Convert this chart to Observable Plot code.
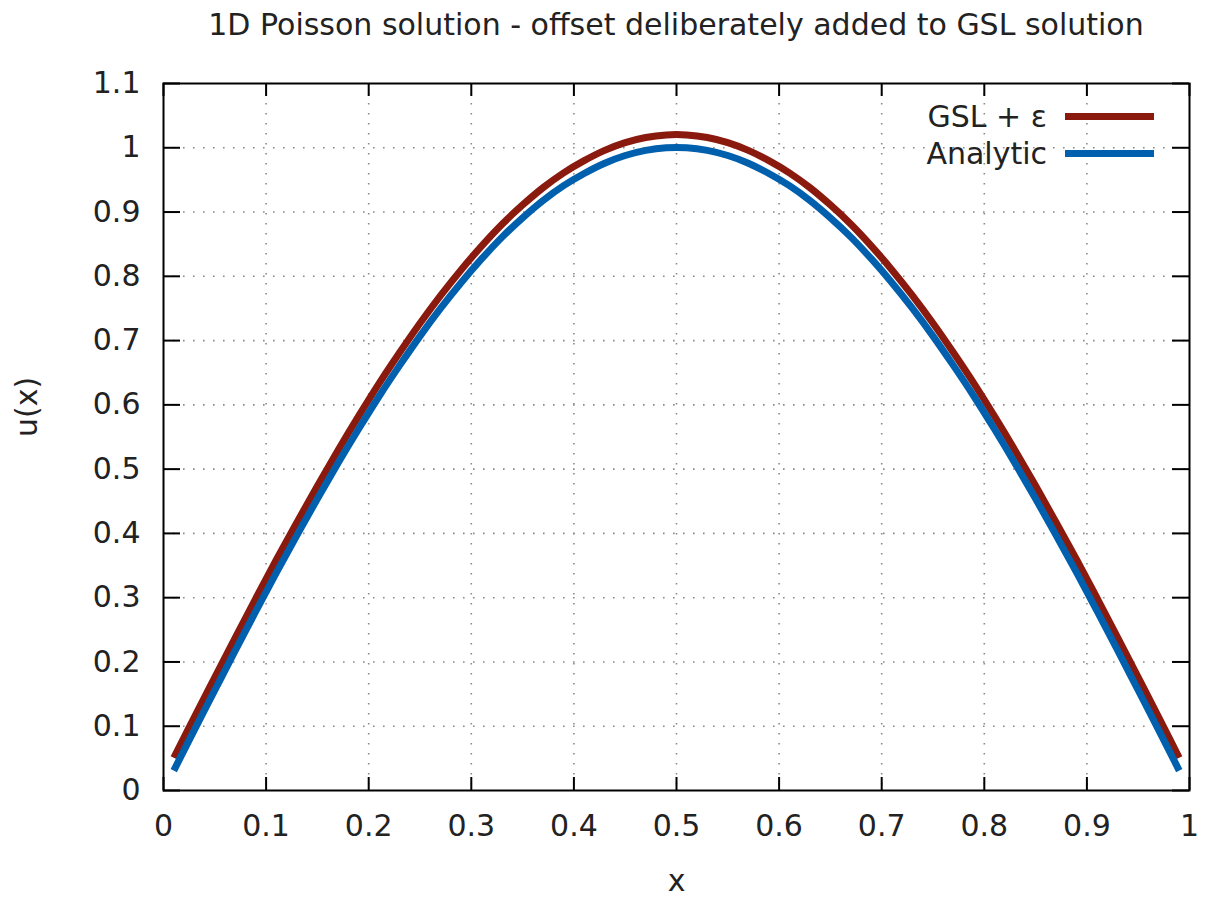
<!DOCTYPE html>
<html>
<head>
<meta charset="utf-8">
<script src="https://cdn.jsdelivr.net/npm/d3@7"></script>
<script src="https://cdn.jsdelivr.net/npm/@observablehq/plot@0.6"></script>
<style>
  body { margin: 0; background: #fff; font-family: "DejaVu Sans", sans-serif; color: #222; }
  #wrap { position: relative; width: 1209px; height: 899px; }
  #title { position: absolute; left: 163px; top: 0; height: 50px; line-height: 50px; width: 1026px; text-align: center; font-size: 30px; white-space: nowrap; }
  #legend { position: absolute; left: 0; top: 98px; width: 1154px; font-size: 30px; }
  .row { display: flex; justify-content: flex-end; align-items: center; height: 37px; }
  .sw { display: inline-block; width: 89px; height: 7px; margin-left: 18px; }
</style>
</head>
<body>
<div id="wrap">
  <div id="chart"></div>
  <div id="title"></div>
  <div id="legend"></div>
</div>
<script>
const titleText = "1D Poisson solution - offset deliberately added to GSL solution";
const xLabel = "x";
const yLabel = "u(x)";
const seriesNames = ["GSL + ε", "Analytic"];
const seriesColors = ["#8b1a0e", "#0060ad"];

const xs = [0.01,0.03,0.05,0.07,0.09,0.11,0.13,0.15,0.17,0.19,0.21,0.23,0.25,0.27,0.29,0.31,0.33,0.35,0.37,0.39,0.41,0.43,0.45,0.47,0.49,
            0.51,0.53,0.55,0.57,0.59,0.61,0.63,0.65,0.67,0.69,0.71,0.73,0.75,0.77,0.79,0.81,0.83,0.85,0.87,0.89,0.91,0.93,0.95,0.97,0.99];
const gsl = [0.051,0.114,0.176,0.238,0.299,0.359,0.417,0.474,0.529,0.582,0.633,0.681,0.727,0.770,0.810,0.847,0.881,0.911,0.938,0.961,0.980,0.996,1.008,1.016,1.020,
             1.020,1.016,1.008,0.996,0.980,0.961,0.938,0.911,0.881,0.847,0.810,0.770,0.727,0.681,0.633,0.582,0.529,0.474,0.417,0.359,0.299,0.238,0.176,0.114,0.051];
const analytic = [0.031,0.094,0.156,0.218,0.279,0.339,0.397,0.454,0.509,0.562,0.613,0.661,0.707,0.750,0.790,0.827,0.861,0.891,0.918,0.941,0.960,0.976,0.988,0.996,1.000,
                  1.000,0.996,0.988,0.976,0.960,0.941,0.918,0.891,0.861,0.827,0.790,0.750,0.707,0.661,0.613,0.562,0.509,0.454,0.397,0.339,0.279,0.218,0.156,0.094,0.031];

const xTicks = [0,0.1,0.2,0.3,0.4,0.5,0.6,0.7,0.8,0.9,1];
const xTickLabels = ["0","0.1","0.2","0.3","0.4","0.5","0.6","0.7","0.8","0.9","1"];
const yTicks = [0,0.1,0.2,0.3,0.4,0.5,0.6,0.7,0.8,0.9,1,1.1];
const yTickLabels = ["0","0.1","0.2","0.3","0.4","0.5","0.6","0.7","0.8","0.9","1","1.1"];

const rows = xs.map((x, i) => ({x, gsl: gsl[i], analytic: analytic[i]}));

const W = 1209, H = 899;
const mL = 163, mR = 20, mT = 83, mB = 109;
const pw = W - mL - mR, ph = H - mT - mB;
const fs = 30;
const txt = "#222";
const gridStyle = {stroke: "#8a8a8a", strokeWidth: 1.6, strokeDasharray: "1.6,8.4"};

document.getElementById("title").textContent = titleText;

const chart = Plot.plot({
  width: W, height: H,
  marginLeft: mL, marginRight: mR, marginTop: mT, marginBottom: mB,
  style: {fontFamily: "DejaVu Sans", fontSize: fs + "px", color: txt, background: "#fff"},
  x: {domain: [0, 1]},
  y: {domain: [0, 1.1]},
  marks: [
    Plot.ruleX(xTicks.slice(1, -1), {...gridStyle}),
    Plot.ruleY(yTicks.slice(1, -1), {...gridStyle}),
    Plot.ruleX(xTicks, {stroke: "#000", strokeWidth: 2, insetTop: ph - 13}),
    Plot.ruleX(xTicks, {stroke: "#000", strokeWidth: 2, insetBottom: ph - 13}),
    Plot.ruleY(yTicks, {stroke: "#000", strokeWidth: 2, insetRight: pw - 17}),
    Plot.ruleY(yTicks, {stroke: "#000", strokeWidth: 2, insetLeft: pw - 17}),
    Plot.axisX(xTicks, {tickSize: 0, tickPadding: 24, fontSize: fs, label: null, fill: txt,
      tickFormat: d => xTickLabels[xTicks.indexOf(d)]}),
    Plot.axisY(yTicks, {tickSize: 0, tickPadding: 23, fontSize: fs, label: null, fill: txt,
      tickFormat: d => yTickLabels[yTicks.indexOf(d)]}),
    Plot.line(rows, {x: "x", y: "gsl", stroke: seriesColors[0], strokeWidth: 7, strokeLinecap: "butt", strokeLinejoin: "round", curve: "catmull-rom"}),
    Plot.line(rows, {x: "x", y: "analytic", stroke: seriesColors[1], strokeWidth: 7, strokeLinecap: "butt", strokeLinejoin: "round", curve: "catmull-rom"}),
    Plot.frame({stroke: "#000", strokeWidth: 2}),
    Plot.text([xLabel], {text: d => d, frameAnchor: "bottom", dy: 91, fontSize: fs, lineAnchor: "middle", fill: txt}),
    Plot.text([yLabel], {text: d => d, frameAnchor: "left", dx: -136, rotate: -90, fontSize: fs, lineAnchor: "middle", fill: txt})
  ]
});
document.getElementById("chart").appendChild(chart);

const legend = document.getElementById("legend");
seriesNames.forEach((name, i) => {
  const row = document.createElement("div");
  row.className = "row";
  const t = document.createElement("span");
  t.textContent = name;
  const sw = document.createElement("span");
  sw.className = "sw";
  sw.style.background = seriesColors[i];
  row.appendChild(t);
  row.appendChild(sw);
  legend.appendChild(row);
});
</script>
</body>
</html>
